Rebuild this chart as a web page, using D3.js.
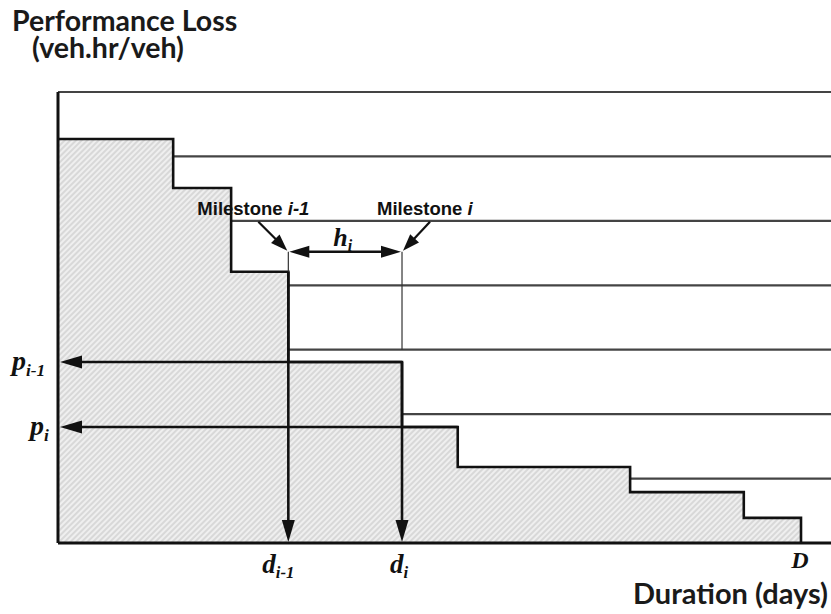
<!DOCTYPE html>
<html><head><meta charset="utf-8">
<script src="https://cdn.jsdelivr.net/npm/d3@7"></script>
<style>html,body{margin:0;padding:0;background:#fff;}svg{display:block;}</style>
</head><body>
<svg id="chart" width="831" height="614"></svg>
<script>
// ---- data (days / veh.hr/veh) ----
const stepEnds = [15.5, 23.3, 31.0, 46.3, 53.8, 77.0, 92.3, 100];   // end day of each stage
const stepLoss = [62.7, 55.1, 42.1, 28.1, 18.0, 11.8, 7.9, 3.9];    // performance loss during stage
const gridLevels = [10, 20, 30, 40, 50, 60, 70];
const milestonePrev = 2;   // index of milestone i-1
const milestoneCur = 3;    // index of milestone i
const hArrowLevel = 45.2;
const labelsText = {title1: "Performance Loss", title2: "(veh.hr/veh)", xTitle: "Duration (days)"};

const svg = d3.select("#chart");
const x = d3.scaleLinear().domain([0, 100]).range([58, 801]);
const y = d3.scaleLinear().domain([0, 70]).range([543, 92]);
const xMax = 104.1;

// hatch pattern
const defs = svg.append("defs");
const pat = defs.append("pattern").attr("id", "hatch").attr("patternUnits", "userSpaceOnUse")
  .attr("width", 4).attr("height", 4).attr("patternTransform", "rotate(45)");
pat.append("rect").attr("width", 4).attr("height", 4).attr("fill", "#efefef");
pat.append("line").attr("x1", 1).attr("y1", 0).attr("x2", 1).attr("y2", 4)
  .attr("stroke", "#c6c6c6").attr("stroke-width", 1.1);

// gridlines
svg.append("g").selectAll("line").data(gridLevels).join("line")
  .attr("x1", x(0)).attr("x2", x(xMax))
  .attr("y1", d => y(d)).attr("y2", d => y(d))
  .attr("stroke", "#444").attr("stroke-width", 2.2);

// step area
const pts = [[0, stepLoss[0]]];
stepEnds.forEach((e, i) => {
  pts.push([e, stepLoss[i]]);
  pts.push([e, i + 1 < stepLoss.length ? stepLoss[i + 1] : 0]);
});
const areaPts = pts.concat([[0, 0]]);
svg.append("path")
  .attr("d", d3.line().x(d => x(d[0])).y(d => y(d[1]))(areaPts) + "Z")
  .attr("fill", "url(#hatch)").attr("stroke", "none");
svg.append("path")
  .attr("d", d3.line().x(d => x(d[0])).y(d => y(d[1]))(pts))
  .attr("fill", "none").attr("stroke", "#111").attr("stroke-width", 2.6);

// axes
svg.append("line").attr("x1", x(0)).attr("x2", x(xMax)).attr("y1", y(0)).attr("y2", y(0))
  .attr("stroke", "#111").attr("stroke-width", 3);
svg.append("line").attr("x1", x(0)).attr("x2", x(0)).attr("y1", y(70)).attr("y2", y(0))
  .attr("stroke", "#111").attr("stroke-width", 3);

// arrow helper
function arrowHead(g, tx, ty, dx, dy, len, half) {
  const n = Math.hypot(dx, dy), ux = dx / n, uy = dy / n;
  const bx = tx - ux * len, by = ty - uy * len;
  g.append("path").attr("d",
    `M${tx},${ty}L${bx - uy * half},${by + ux * half}L${bx + uy * half},${by - ux * half}Z`)
    .attr("fill", "#111");
}
function arrow(x1, y1, x2, y2, w, len, half) {
  const g = svg.append("g");
  const n = Math.hypot(x2 - x1, y2 - y1);
  g.append("line").attr("x1", x1).attr("y1", y1)
    .attr("x2", x2 - (x2 - x1) / n * len * 0.6).attr("y2", y2 - (y2 - y1) / n * len * 0.6)
    .attr("stroke", "#111").attr("stroke-width", w);
  arrowHead(g, x2, y2, x2 - x1, y2 - y1, len, half);
  return g;
}

const dPrev = stepEnds[milestonePrev], dCur = stepEnds[milestoneCur];
const pPrev = stepLoss[milestonePrev + 1], pCur = stepLoss[milestoneCur + 1];

// vertical d arrows
arrow(x(dPrev), y(stepLoss[milestonePrev]), x(dPrev), y(0) - 1, 2.6, 22, 6.5);
arrow(x(dCur), y(pPrev), x(dCur), y(0) - 1, 2.6, 22, 6.5);
// horizontal p arrows
arrow(x(dCur), y(pPrev), x(0) + 2, y(pPrev), 2.6, 22, 6.5);
arrow(x(stepEnds[milestoneCur + 1]), y(pCur), x(0) + 2, y(pCur), 2.6, 22, 6.5);

// thin milestone lines
svg.append("line").attr("x1", x(dPrev)).attr("x2", x(dPrev)).attr("y1", y(hArrowLevel)).attr("y2", y(stepLoss[milestonePrev]))
  .attr("stroke", "#333").attr("stroke-width", 1.2);
svg.append("line").attr("x1", x(dCur)).attr("x2", x(dCur)).attr("y1", y(hArrowLevel)).attr("y2", y(30))
  .attr("stroke", "#333").attr("stroke-width", 1.2);

// h_i double arrow
const hy = y(hArrowLevel);
const hg = svg.append("g");
hg.append("line").attr("x1", x(dPrev) + 15).attr("x2", x(dCur) - 15).attr("y1", hy).attr("y2", hy)
  .attr("stroke", "#111").attr("stroke-width", 2.6);
arrowHead(hg, x(dPrev) + 1, hy, -1, 0, 20, 6);
arrowHead(hg, x(dCur) - 1, hy, 1, 0, 20, 6);

// milestone pointers
arrow(x(dPrev) - 30, hy - 30, x(dPrev) - 1, hy - 1, 2.2, 17, 6);
arrow(x(dCur) + 28, hy - 30, x(dCur) + 1, hy - 1, 2.2, 17, 6);

// milestone labels
const mFont = "'Liberation Sans', Arial, sans-serif";
function milestoneLabel(px, sub) {
  const t = svg.append("text").attr("x", px).attr("y", hy - 37)
    .attr("font-family", mFont).attr("font-weight", "bold").attr("font-size", 18.5)
    .attr("fill", "#111");
  t.append("tspan").text("Milestone ");
  t.append("tspan").attr("font-style", "italic").text(sub);
}
milestoneLabel(x(dPrev) - 91, "i-1");
milestoneLabel(x(dCur) - 25, "i");

// math labels
const serif = "'Liberation Serif', 'Times New Roman', serif";
function mathLabel(px, py, main, sub, size, anchor) {
  const t = svg.append("text").attr("x", px).attr("y", py).attr("text-anchor", anchor || "start")
    .attr("font-family", serif).attr("font-weight", "bold").attr("font-style", "italic")
    .attr("font-size", size).attr("fill", "#111");
  t.append("tspan").text(main);
  if (sub) t.append("tspan").attr("font-size", size * 0.62).attr("dy", size * 0.2).text(sub);
  return t;
}
mathLabel((x(dPrev) + x(dCur)) / 2 - 12, hy - 6, "h", "i", 26);
mathLabel(12, y(pPrev) + 8, "p", "i-1", 28);
mathLabel(30, y(pCur) + 8, "p", "i", 28);
mathLabel(x(dPrev) - 26, y(0) + 30, "d", "i-1", 27);
mathLabel(x(dCur) - 12, y(0) + 30, "d", "i", 27);
mathLabel(x(100) - 1, y(0) + 25, "D", null, 24, "middle");

// titles
const sans = "Lato, 'Open Sans', sans-serif";
const tt = svg.append("text").attr("font-family", sans).attr("font-weight", "bold")
  .attr("font-size", 28.5).attr("fill", "#1a1a1a");
tt.append("tspan").attr("x", 12).attr("y", 31).text(labelsText.title1);
tt.append("tspan").attr("x", 32).attr("y", 58).text(labelsText.title2);
svg.append("text").attr("x", 828).attr("y", 604).attr("text-anchor", "end").attr("font-family", sans).attr("font-weight", "bold")
  .attr("font-size", 29).attr("fill", "#1a1a1a").text(labelsText.xTitle);
</script>
</body></html>
